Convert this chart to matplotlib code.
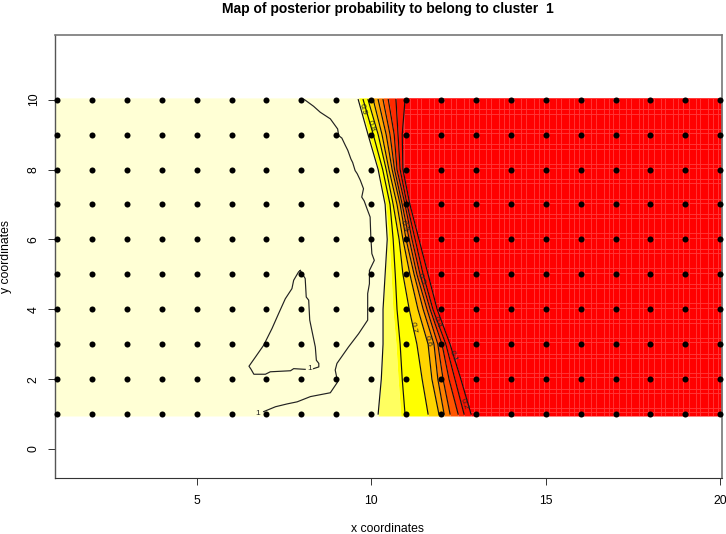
import matplotlib
matplotlib.use("Agg")
import matplotlib.pyplot as plt
from matplotlib.patches import Polygon
import numpy as np

plt.rcParams["font.family"] = ["Liberation Sans", "DejaVu Sans"]

# where the sampling points are
GRID_X = list(range(1, 21))
GRID_Y = list(range(1, 11))

# contour positions, x at y = 1..10
LEVEL_Y = [1, 2, 3, 4, 5, 6, 7, 8, 9, 10]
LEVEL_09 = [10.20, 10.29, 10.34, 10.34, 10.40, 10.46, 10.40, 10.20, 9.91, 9.63]
LEVEL_08 = [10.97, 10.89, 10.83, 10.74, 10.69, 10.63, 10.54, 10.33, 10.06, 9.77]
LEVEL_07 = [11.63, 11.46, 11.31, 11.09, 10.91, 10.80, 10.63, 10.43, 10.20, 9.91]
LEVEL_06 = [11.94, 11.74, 11.63, 11.34, 11.11, 10.91, 10.74, 10.51, 10.31, 10.06]
LEVEL_05 = [12.09, 11.91, 11.80, 11.49, 11.23, 11.00, 10.83, 10.60, 10.43, 10.20]
LEVEL_04 = [12.26, 12.06, 11.91, 11.60, 11.31, 11.09, 10.89, 10.67, 10.54, 10.34]
LEVEL_03 = [12.49, 12.23, 12.03, 11.69, 11.40, 11.17, 10.97, 10.74, 10.66, 10.49]
LEVEL_02 = [12.66, 12.40, 12.14, 11.77, 11.49, 11.26, 11.03, 10.83, 10.77, 10.71]
LEVEL_01 = [12.86, 12.57, 12.26, 11.89, 11.63, 11.37, 11.11, 10.91, 10.89, 10.97]

# the level 1 contour, outer branch
ONE_OUTER_X = [8.09, 8.35, 8.54, 8.83, 9.04, 9.07, 9.16, 9.26, 9.33, 9.42, 9.47, 9.54, 9.60, 9.69, 9.78, 9.73,
               9.80, 9.88, 9.97, 9.99, 10.02, 10.09, 9.95, 9.95, 9.90, 9.90, 9.64, 9.35, 9.02, 8.97, 9.04,
               8.83, 8.26, 7.88, 7.59, 7.26, 6.92]
ONE_OUTER_Y = [10.0, 9.81, 9.64, 9.45, 9.16, 8.97, 8.90, 8.69, 8.55, 8.30, 8.20, 7.97, 7.88, 7.69, 7.45, 7.21,
               7.10, 6.88, 6.64, 6.07, 5.59, 5.40, 5.11, 4.73, 4.45, 3.69, 3.30, 2.92, 2.45, 2.26, 1.92,
               1.61, 1.50, 1.35, 1.29, 1.21, 1.07]

# the level 1 contour, closed triangle (nan is the gap for its label)
ONE_INNER_X = [7.97, 8.11, 8.14, 8.21, 8.24, 8.30, 8.40, 8.43, 8.50, 8.50, 8.35, np.nan, 8.11, 7.78, 7.69,
               7.11, 6.97, 6.64, 6.56, 6.50, 6.69, 6.92, 7.16, 7.35, 7.54, 7.73, 7.78, 7.92, 7.97]
ONE_INNER_Y = [5.11, 4.88, 4.35, 4.26, 3.69, 3.40, 2.92, 2.54, 2.45, 2.35, 2.30, np.nan, 2.28, 2.30, 2.24,
               2.21, 2.14, 2.14, 2.28, 2.37, 2.64, 2.97, 3.45, 3.88, 4.30, 4.59, 4.83, 5.07, 5.11]

LABEL_TEXT = ["0.9", "0.8", "0.7", "0.6", "0.5", "0.4", "0.3", "0.2", "0.1", "1", "1"]
LABEL_X = [9.76, 9.99, 11.21, 11.61, 11.42, 11.88, 10.94, 12.67, 12.34, 8.24, 6.76]
LABEL_Y = [9.72, 9.24, 3.47, 3.09, 4.87, 3.63, 6.39, 1.29, 2.65, 2.30, 1.02]
LABEL_ROT = [-75, -70, -80, -75, -70, -70, -72, -70, -70, 0, 0]

BAND_COLORS = ["#FFFFD5", "#FFFF60", "#FFFF00", "#FFD500", "#FFAA00", "#FF8000", "#FF5500", "#FF2A00", "#FF1500", "#FF0000"]

# seams of the image cells, offsets inside one unit
SEAM_X = [0.10, 0.30, 0.43, 0.66, 0.80, 0.94]
SEAM_Y = [0.05, 0.17, 0.60, 0.72]

W, H = 726, 534
LEFT, RIGHT, TOP, BOTTOM = 55, 722, 35, 478
XMIN, XMAX = 0.943, 20.05
YMIN, YMAX = -0.83, 11.85
IMG_YMIN, IMG_YMAX = 0.945, 10.05


def edge_y():
    # contours stop at y=1 and y=10, the image goes half a pixel further
    y = np.array(LEVEL_Y, dtype=float)
    y[0] = IMG_YMIN
    y[-1] = IMG_YMAX
    return y


fig = plt.figure(figsize=(W / 100, H / 100), dpi=100)
fig.set_facecolor("white")
ax = fig.add_axes([LEFT / W, 1 - BOTTOM / H, (RIGHT - LEFT) / W, (BOTTOM - TOP) / H])

levels = [LEVEL_09, LEVEL_08, LEVEL_07, LEVEL_06, LEVEL_05, LEVEL_04, LEVEL_03, LEVEL_02, LEVEL_01]
fy = edge_y()
left_edge = [XMIN] * len(fy)
right_edge = [XMAX] * len(fy)
# yellow starts a little before the 0.8 line
yellow_edge = [x - 0.12 for x in LEVEL_08]
bounds = [left_edge, LEVEL_09, yellow_edge] + levels[2:] + [right_edge]
for i in range(len(bounds) - 1):
    ax.fill_betweenx(fy, bounds[i], bounds[i + 1], color=BAND_COLORS[i], lw=0, zorder=1)

# pale seams show up on the red part
red = Polygon(np.column_stack([LEVEL_01 + right_edge, list(fy) + list(fy[::-1])]),
              closed=True, transform=ax.transData, fc="none", ec="none")
ax.add_patch(red)
seam_x = [u + o for u in range(1, 21) for o in SEAM_X]
seam_y = [u + o for u in range(0, 11) for o in SEAM_Y]
v = ax.vlines(seam_x, IMG_YMIN, IMG_YMAX, color="#FF3838", lw=0.65, zorder=2)
h = ax.hlines(seam_y, XMIN, XMAX, color="#FF3838", lw=0.65, zorder=2)
v.set_clip_path(red)
h.set_clip_path(red)

for lev in levels:
    ax.plot(lev, LEVEL_Y, color="#111111", lw=0.85, zorder=3)
ax.plot(ONE_OUTER_X, ONE_OUTER_Y, color="#222222", lw=0.85, zorder=3)
ax.plot(ONE_INNER_X, ONE_INNER_Y, color="#222222", lw=0.85, zorder=3)

for t, x, y, r in zip(LABEL_TEXT, LABEL_X, LABEL_Y, LABEL_ROT):
    ax.text(x, y, t, fontsize=6, rotation=r, ha="center", va="center", color="#222222", zorder=3)

gx, gy = np.meshgrid(GRID_X, GRID_Y)
ax.scatter(gx.ravel(), gy.ravel(), s=19, color="black", lw=0, zorder=4, clip_on=False)

ax.set_xlim(XMIN, XMAX)
ax.set_ylim(YMIN, YMAX)
ax.set_xticks([5, 10, 15, 20])
ax.set_yticks([0, 2, 4, 6, 8, 10])
ax.tick_params(axis="x", length=5, width=0.7, color="#333333", labelsize=8.8, pad=7)
ax.tick_params(axis="y", length=5, width=0.7, color="#333333", labelsize=8.8, pad=6, labelrotation=90)
for lab in ax.get_yticklabels():
    lab.set_va("center")

for side, col, lw in [("bottom", "#333333", 0.8), ("left", "#555555", 1.0), ("top", "#777777", 1.2), ("right", "#777777", 1.2)]:
    ax.spines[side].set_color(col)
    ax.spines[side].set_linewidth(lw)

fig.text(388 / W, 1 - 8.5 / H, "Map of posterior probability to belong to cluster  1", fontsize=9.96, fontweight="bold", ha="center", va="center")
fig.text(388 / W, 1 - 529.5 / H, "x coordinates", fontsize=8.8, ha="center", va="center")
fig.text(6 / W, 1 - 256 / H, "y coordinates", fontsize=8.8, rotation=90, ha="center", va="center")

plt.savefig("out.png", dpi=100)
plt.close()
